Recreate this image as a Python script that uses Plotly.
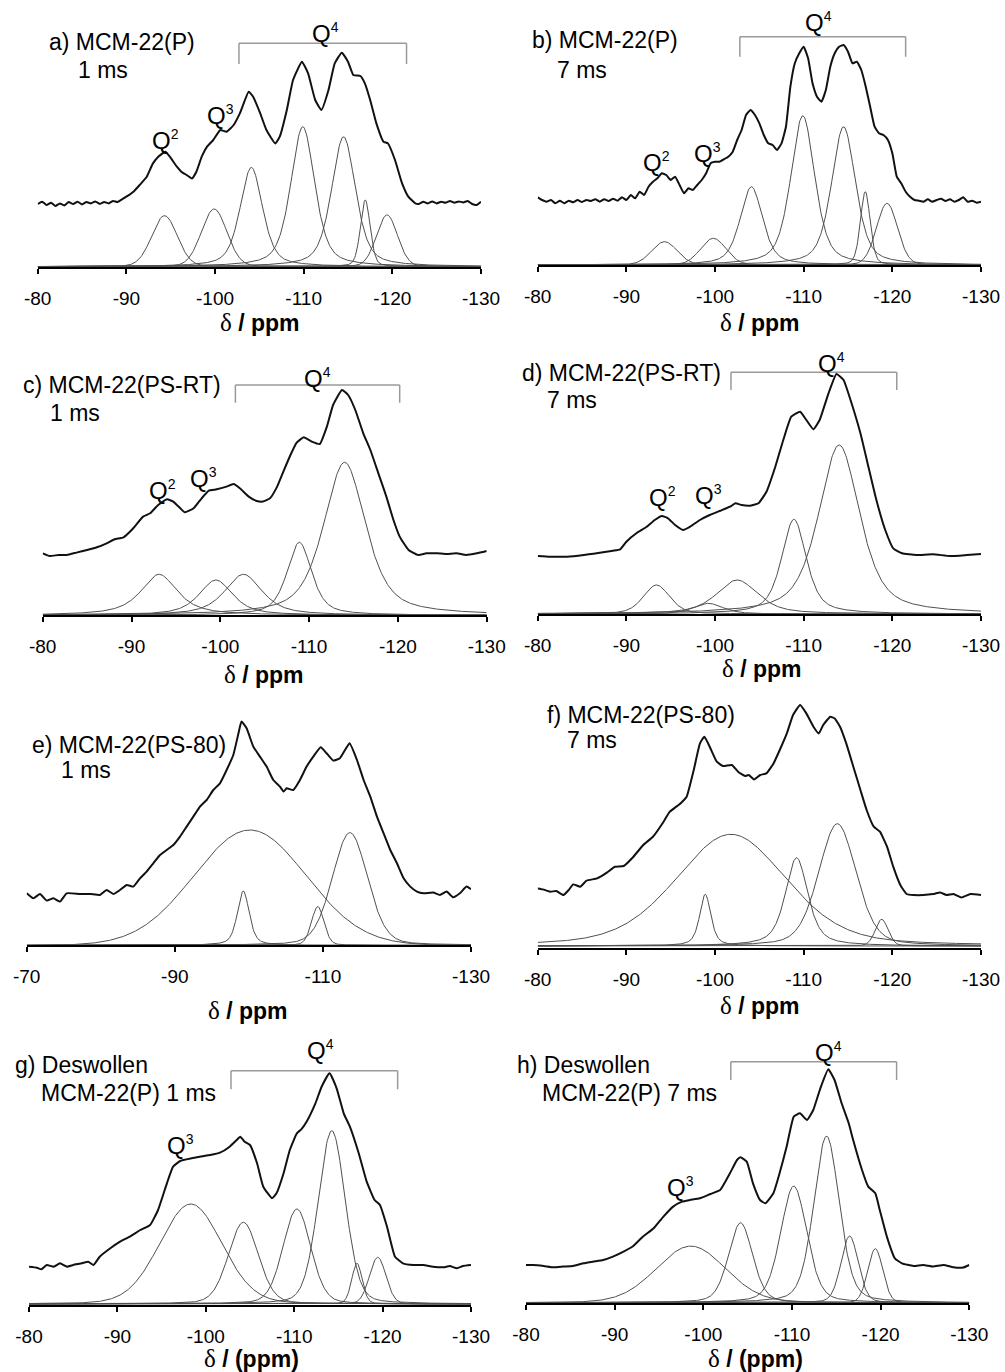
import numpy as np
import plotly.graph_objects as go

W, H = 1005, 1372

# ---------------- DATA (ppm, intensity in arbitrary units) ----------------
# Panel a) MCM-22(P) 1 ms
A_EXP_PPM = [-80.0,-80.5,-81.0,-81.5,-82.0,-82.5,-83.0,-83.5,-84.0,-84.5,-85.0,-85.5,-86.0,-86.5,-87.0,-87.5,-88.0,-88.5,-89.0,-89.5,-90.0,-90.8,-91.5,-92.3,-93.0,-93.6,-94.4,-94.9,-95.7,-96.2,-96.8,-97.4,-97.9,-98.5,-99.1,-99.8,-100.6,-101.3,-102.1,-102.8,-103.8,-104.3,-105.1,-105.8,-106.8,-107.3,-108.1,-108.8,-109.8,-110.5,-111.3,-112.0,-112.8,-113.5,-114.3,-115.0,-115.6,-116.4,-116.9,-117.5,-118.2,-119.0,-119.5,-120.3,-121.1,-121.8,-122.6,-123.0,-123.5,-124.0,-124.5,-125.0,-125.5,-126.0,-126.5,-127.0,-127.5,-128.0,-128.5,-129.0,-129.5,-130.0]
A_EXP_INT = [62.7,65,61.7,64,60.7,63.3,61.3,64.7,62.7,65,62.3,64.7,63.3,65.3,62.7,64.7,63.3,65.7,64.7,67.3,70,75,81.7,90,103.3,110,115,110,100,95,91.7,88.3,95,110,120,126.7,136.7,135,141.7,153.3,175,170,153.3,136.7,123.3,130,156.7,186.7,205,193.3,166.7,156.7,176.7,203.3,214,205,191.7,190.7,183.3,166.7,143.3,125,123.3,106.7,83.3,70,63.3,62.7,65,63.3,65.3,63.3,65,64,65.7,64,65.3,64.3,65.7,62.7,61.7,65]
A_PK_POS = [-94.3, -99.9, -104.1, -109.9, -114.5, -116.95, -119.4]
A_PK_HGT = [51, 57.7, 99.3, 140, 130, 66.7, 51.7]
A_PK_FWHM = [3.4, 3.4, 3.0, 3.2, 3.2, 1.3, 2.8]
A_PK_ETA = [0.1, 0.1, 0.5, 0.5, 0.5, 0.3, 0.1]

# Panel b) MCM-22(P) 7 ms
B_EXP_PPM = [-80.0,-80.5,-81.0,-81.5,-82.0,-82.5,-83.0,-83.5,-84.0,-84.5,-85.0,-85.5,-86.0,-86.5,-87.0,-87.5,-88.0,-88.5,-89.0,-89.5,-90.0,-90.5,-91.0,-91.5,-92.0,-92.5,-93.0,-93.5,-94.0,-94.5,-95.0,-95.5,-96.0,-96.5,-97.0,-97.5,-98.0,-98.5,-99.0,-99.5,-100.0,-100.5,-101.0,-101.5,-102.0,-102.5,-103.0,-103.5,-104.0,-104.5,-105.0,-105.5,-106.0,-106.5,-107.0,-107.5,-108.0,-108.5,-109.0,-109.5,-110.0,-110.5,-111.0,-111.5,-112.0,-112.5,-113.0,-113.5,-114.0,-114.5,-115.0,-115.5,-116.0,-116.5,-117.0,-117.5,-118.0,-118.5,-119.0,-119.5,-120.0,-120.5,-121.0,-121.5,-122.0,-122.5,-123.0,-123.5,-124.0,-124.5,-125.0,-125.5,-126.0,-126.5,-127.0,-127.5,-128.0,-128.5,-129.0,-129.5,-130.0]
B_EXP_INT = [67.7,65,63.3,65,61.7,64.3,61.7,64.3,62.7,65,63,65,64,65.7,63.3,65.7,64,66.3,64.3,67.7,65,70,66.7,73.3,70,78.3,83.3,86.7,91.7,90,85,88.3,80,71.7,76.7,75,80,85,91.7,101.7,103.3,103.3,105.7,108.3,113.3,125,135,150,155,150,141.7,130,121.7,120,115,121.7,138.3,178.3,201.7,211.7,218.3,206.7,181.7,168.3,163.3,175,198.3,211.7,218.3,220,213.3,201.7,203.3,195,178.3,158.3,138.3,131.7,130,125,111.7,88.3,81.7,73.3,68.3,65,64.3,63.3,65.7,63.3,65,66.3,64,65.7,63.3,65,67.7,63.3,64.3,62.3,63.3]
B_PK_POS = [-94.3, -99.8, -104.1, -109.9, -114.5, -116.95, -119.4]
B_PK_HGT = [23.3, 26.7, 78.3, 149.3, 138.3, 73.3, 61.7]
B_PK_FWHM = [3.4, 3.4, 3.0, 3.2, 3.2, 1.3, 2.8]
B_PK_ETA = [0.1, 0.1, 0.5, 0.5, 0.5, 0.3, 0.1]

# Panel c) MCM-22(PS-RT) 1 ms
C_EXP_PPM = [-80.0,-80.8,-81.8,-82.7,-83.8,-85.0,-86.1,-87.2,-88.1,-89.1,-90.2,-91.3,-92.1,-93.0,-94.0,-94.7,-95.5,-96.0,-97.0,-97.9,-98.7,-99.6,-100.7,-101.5,-102.2,-103.2,-104.1,-104.8,-105.6,-106.4,-107.1,-107.9,-108.6,-109.4,-110.3,-111.2,-112.0,-112.7,-113.7,-114.4,-115.2,-116.1,-116.9,-117.8,-118.7,-119.5,-120.2,-121.2,-122.3,-123.2,-124.4,-125.5,-126.6,-127.7,-128.9,-130.0]
C_EXP_INT = [62,59.3,60.3,60.3,62.7,65.3,68,72,76,78,87,98.7,102,110.3,116,113.7,107,103,107,117,124.7,126,128.7,131.3,127,118.7,114.3,113.7,117,128.7,143.7,160.3,172.7,178,173.7,171.3,188.7,210.3,225.3,220.3,205.3,182,165.3,142,118.7,95.3,78.7,65.3,60.3,62,62,61.3,62,60.3,62,64.3]
C_PK_POS = [-93.1, -99.5, -102.6, -108.9, -114.0]
C_PK_HGT = [41, 35.3, 41, 73, 153]
C_PK_FWHM = [4.9, 4.5, 5.0, 3.3, 5.6]
C_PK_ETA = [0.8, 0.7, 0.7, 0.6, 0.6]

# Panel d) MCM-22(PS-RT) 7 ms
D_EXP_PPM = [-80.0,-81.4,-83.3,-85.2,-87.0,-88.5,-89.3,-90.0,-91.2,-92.3,-93.2,-94.0,-94.7,-95.5,-96.4,-97.2,-98.3,-99.4,-100.6,-101.7,-102.3,-103.0,-103.9,-104.9,-105.8,-106.8,-107.7,-108.6,-109.6,-110.3,-111.1,-111.8,-112.8,-113.7,-114.5,-115.4,-116.4,-117.3,-118.2,-119.2,-120.1,-121.1,-122.7,-124.6,-126.5,-128.4,-130.0]
D_EXP_INT = [58,57.3,57.3,59,61.3,63.3,64.7,72.3,81.3,87.3,94,98,95.7,89,84,87.3,94,99,103.3,107.3,110.7,109,108.3,110.7,122.3,147.3,174,197.3,202.3,194,184.7,194,220.7,240,234,210.7,180.7,147.3,114,84,65.7,60.7,59,59.7,58,59,60]
D_PK_POS = [-93.4, -99.2, -102.5, -108.9, -114.0]
D_PK_HGT = [29, 10.7, 34, 94.7, 169]
D_PK_FWHM = [3.5, 4.0, 5.5, 3.3, 5.5]
D_PK_ETA = [0.4, 0.5, 0.6, 0.6, 0.6]

# Panel e) MCM-22(PS-80) 1 ms
E_EXP_PPM = [-70.0,-70.9,-71.8,-72.7,-73.6,-74.5,-75.4,-77.2,-78.6,-79.9,-80.8,-81.7,-82.6,-83.5,-84.4,-85.3,-86.2,-87.1,-88.0,-88.9,-89.8,-90.7,-91.6,-92.5,-93.4,-94.3,-95.2,-96.1,-97.0,-97.9,-98.6,-99.0,-99.7,-100.6,-101.5,-102.4,-103.3,-104.2,-104.7,-105.1,-106.0,-106.9,-107.8,-108.7,-109.7,-110.5,-111.4,-112.3,-113.6,-114.6,-115.5,-116.4,-117.3,-118.2,-119.1,-120.0,-120.9,-121.8,-122.7,-123.6,-124.9,-125.8,-126.7,-127.6,-128.5,-129.4,-130.0]
E_EXP_INT = [52,47,51.3,44.7,47,43.7,52,51.3,51.3,50.3,55.3,51.3,55.3,60.3,58.7,67,73.7,82,90.3,95.3,100.3,108.7,118.7,128.7,138.7,145.3,155.3,162,175.3,190.3,212,223.7,217,198.7,188.7,178.7,165.3,158.7,153.7,157,155.3,165.3,178.7,188.7,198,192,184.7,187,202,185.3,165.3,148.7,128.7,112,95.3,82,67,58.7,53.7,52,52.7,50.3,53.7,48,52,58.7,56]
E_PK_POS = [-100.15, -99.25, -109.3, -113.65]
E_PK_HGT = [115.3, 54.3, 38.7, 112.7]
E_PK_FWHM = [17.8, 1.9, 2.0, 5.6]
E_PK_ETA = [0.0, 0.5, 0.2, 0.2]

# Panel f) MCM-22(PS-80) 7 ms
F_EXP_PPM = [-80.0,-80.6,-81.4,-82.1,-82.9,-83.5,-84.0,-84.8,-85.5,-86.7,-87.8,-88.7,-89.7,-90.8,-91.9,-93.0,-94.2,-94.9,-96.1,-96.8,-97.6,-98.3,-98.8,-99.4,-100.2,-100.9,-101.9,-102.6,-103.4,-103.8,-104.4,-105.1,-105.8,-106.6,-107.3,-108.1,-108.8,-109.6,-110.3,-111.1,-111.7,-112.2,-113.0,-113.5,-114.1,-114.8,-115.6,-116.4,-117.1,-117.9,-118.6,-119.4,-120.1,-120.9,-121.6,-122.4,-123.5,-124.6,-125.4,-126.1,-126.9,-127.8,-128.8,-130.0]
F_EXP_INT = [59.3,58.3,56,56.7,52.7,57.7,63.3,61,67,69.3,75,81,81.7,91,102.7,111,126,136,144.3,151,177.7,204.3,211,201,186,181.7,182.7,176,171.7,172.7,168.3,172.7,174.3,184.3,197.7,214.3,232.7,242.7,234.3,221,214.3,222.7,231,229.3,221,204.3,181,157.7,137.7,121,116,101,81,62.7,53.7,52.7,52.7,53.7,55.3,52.7,53.7,50.3,53.7,52.7]
F_PK_POS = [-101.8, -98.9, -109.2, -113.8, -118.8]
F_PK_HGT = [111.7, 51.7, 88.3, 122.3, 26.7]
F_PK_FWHM = [14.7, 1.5, 3.0, 5.0, 1.7]
F_PK_ETA = [0.3, 0.6, 0.6, 0.3, 0.2]

# Panel g) Deswollen MCM-22(P) 1 ms
G_EXP_PPM = [-80.0,-80.9,-81.4,-82.0,-82.8,-83.5,-84.3,-85.0,-86.0,-86.7,-87.3,-88.0,-89.2,-90.3,-91.4,-92.6,-93.7,-94.6,-95.6,-96.3,-97.1,-98.4,-99.3,-100.5,-101.6,-102.7,-103.5,-103.9,-104.4,-105.0,-105.8,-106.5,-107.5,-108.0,-108.8,-109.5,-110.3,-110.8,-111.4,-112.4,-113.1,-114.0,-114.8,-115.6,-116.3,-117.3,-118.2,-119.1,-119.7,-120.5,-121.4,-122.3,-123.5,-124.6,-125.7,-126.9,-127.6,-128.4,-129.1,-130.0]
G_EXP_INT = [38.3,37.3,35.7,40,38.3,41.7,38.3,40,41.7,43.3,40,48.3,56.7,63.3,68.3,75,80,95,121.7,138.3,144,146.7,148.3,150,152.3,158.3,165,168.3,163.3,160,141.7,118.3,106.7,111.7,131.7,155,171.7,175.7,183.3,201.7,218.3,231.7,216.7,191.7,178.3,151.7,123.3,105,100,78.3,48.3,41.7,40,40,38.3,37.7,39,36.7,39,40]
G_PK_POS = [-98.3, -104.25, -110.3, -114.25, -117.1, -119.45]
G_PK_HGT = [100, 81.7, 95, 173.3, 40.7, 46.7]
G_PK_FWHM = [8.3, 4.0, 3.7, 3.6, 1.4, 2.2]
G_PK_ETA = [0.1, 0.2, 0.2, 0.2, 0.2, 0.1]

# Panel h) Deswollen MCM-22(P) 7 ms
H_EXP_PPM = [-80.0,-80.8,-82.0,-83.1,-84.2,-85.3,-86.5,-87.6,-88.7,-89.8,-91.0,-92.1,-93.2,-94.4,-95.5,-96.6,-97.6,-98.5,-99.6,-100.8,-101.9,-103.0,-103.8,-104.2,-104.9,-105.6,-106.4,-107.0,-107.9,-108.6,-109.4,-110.2,-110.9,-111.7,-112.4,-113.2,-114.1,-114.8,-115.6,-116.4,-116.9,-117.9,-118.6,-119.4,-119.9,-120.7,-121.6,-122.4,-123.7,-124.8,-125.9,-127.1,-128.2,-129.3,-130.0]
H_EXP_INT = [38.3,38.3,37.3,36,36.7,37.3,40,41.7,43.3,46.7,51.7,57.3,66.7,75,86.7,96.7,101.7,103.3,105,109.3,113.3,130,143.3,146,141.7,120,103.3,100,110,130,156.7,186.7,190,183.3,193.3,215,234,223.3,200,180,163.3,133.3,116.7,110,93.3,66.7,45,40,37.3,38.3,36.7,38.3,36,35.7,38.3]
H_PK_POS = [-98.6, -104.2, -110.2, -113.9, -116.5, -119.4]
H_PK_HGT = [56.7, 80, 116.7, 166.7, 66.7, 54]
H_PK_FWHM = [9.2, 3.2, 3.5, 3.4, 2.3, 2.0]
H_PK_ETA = [0.1, 0.3, 0.3, 0.3, 0.2, 0.1]

# baseline of the fitted components above the axis (f and g show a doubled axis line)
COMP_BASE = {'a': 0, 'b': 0, 'c': 0, 'd': 0, 'e': 0, 'f': 1.7, 'g': 1.0, 'h': 0.5}

# Q4 bracket ranges (ppm) and tick labels
Q4_RANGE = {'a': (-102.7, -121.6), 'b': (-102.8, -121.5), 'c': (-101.7, -120.2),
            'd': (-101.8, -120.5), 'g': (-102.85, -121.7), 'h': (-103.1, -121.8)}
TICKS_STD = [-80, -90, -100, -110, -120, -130]
TICKS_E = [-70, -90, -110, -130]

# ---------------- LAYOUT GEOMETRY (pixels) ----------------
R = 250  # intensity range shown above axis
panels = [
    dict(k='a', ex=A_EXP_PPM, ey=A_EXP_INT, pos=A_PK_POS, hgt=A_PK_HGT, fw=A_PK_FWHM, eta=A_PK_ETA,
         x0=37.7, x1=481, ay=266.7, xr=(-80, -130), tv=TICKS_STD, title_xy=(260, 322), unit='ppm',
         lab=[("a) MCM-22(P)", 47, 42), ("1 ms", 76, 70)],
         q=[("Q", "2", 165, 140), ("Q", "3", 220, 115), ("Q", "4", 325, 33)],
         br=(223.4, 202.7)),
    dict(k='b', ex=B_EXP_PPM, ey=B_EXP_INT, pos=B_PK_POS, hgt=B_PK_HGT, fw=B_PK_FWHM, eta=B_PK_ETA,
         x0=537.7, x1=981, ay=265, xr=(-80, -130), tv=TICKS_STD, title_xy=(760, 322), unit='ppm',
         lab=[("b) MCM-22(P)", 530, 40), ("7 ms", 555, 70)],
         q=[("Q", "2", 656, 162), ("Q", "3", 707, 153), ("Q", "4", 818, 22)],
         br=(228.3, 208.3)),
    dict(k='c', ex=C_EXP_PPM, ey=C_EXP_INT, pos=C_PK_POS, hgt=C_PK_HGT, fw=C_PK_FWHM, eta=C_PK_ETA,
         x0=42.7, x1=486.7, ay=615.3, xr=(-80, -130), tv=TICKS_STD, title_xy=(264, 675), unit='ppm',
         lab=[("c) MCM-22(PS-RT)", 21, 385), ("1 ms", 48, 413)],
         q=[("Q", "2", 162, 490), ("Q", "3", 203, 478), ("Q", "4", 317, 378)],
         br=(230.3, 212.6)),
    dict(k='d', ex=D_EXP_PPM, ey=D_EXP_INT, pos=D_PK_POS, hgt=D_PK_HGT, fw=D_PK_FWHM, eta=D_PK_ETA,
         x0=537.7, x1=981, ay=614, xr=(-80, -130), tv=TICKS_STD, title_xy=(762, 668), unit='ppm',
         lab=[("d) MCM-22(PS-RT)", 520, 373), ("7 ms", 545, 400)],
         q=[("Q", "2", 662, 497), ("Q", "3", 708, 495), ("Q", "4", 831, 363)],
         br=(241.7, 224)),
    dict(k='e', ex=E_EXP_PPM, ey=E_EXP_INT, pos=E_PK_POS, hgt=E_PK_HGT, fw=E_PK_FWHM, eta=E_PK_ETA,
         x0=26.7, x1=471, ay=945.3, xr=(-70, -130), tv=TICKS_E, title_xy=(248, 1010), unit='ppm',
         lab=[("e) MCM-22(PS-80)", 30, 745), ("1 ms", 59, 770)], q=[], br=None),
    dict(k='f', ex=F_EXP_PPM, ey=F_EXP_INT, pos=F_PK_POS, hgt=F_PK_HGT, fw=F_PK_FWHM, eta=F_PK_ETA,
         x0=537.7, x1=981, ay=947.7, xr=(-80, -130), tv=TICKS_STD, title_xy=(760, 1005), unit='ppm',
         lab=[("f) MCM-22(PS-80)", 545, 715), ("7 ms", 565, 740)], q=[], br=None),
    dict(k='g', ex=G_EXP_PPM, ey=G_EXP_INT, pos=G_PK_POS, hgt=G_PK_HGT, fw=G_PK_FWHM, eta=G_PK_ETA,
         x0=29, x1=471, ay=1305, xr=(-80, -130), tv=TICKS_STD, title_xy=(252, 1358), unit='(ppm)',
         lab=[("g) Deswollen", 13, 1065), ("MCM-22(P) 1 ms", 39, 1093)],
         q=[("Q", "3", 180, 1145), ("Q", "4", 320, 1050)],
         br=(234.3, 215.7)),
    dict(k='h', ex=H_EXP_PPM, ey=H_EXP_INT, pos=H_PK_POS, hgt=H_PK_HGT, fw=H_PK_FWHM, eta=H_PK_ETA,
         x0=526, x1=969.3, ay=1303.3, xr=(-80, -130), tv=TICKS_STD, title_xy=(755, 1358), unit='(ppm)',
         lab=[("h) Deswollen", 515, 1065), ("MCM-22(P) 7 ms", 540, 1093)],
         q=[("Q", "3", 680, 1187), ("Q", "4", 828, 1052)],
         br=(241.6, 223.3)),
]


def pvoigt(x, c, h, w, eta):
    g = np.exp(-4 * np.log(2) * ((x - c) / w) ** 2)
    lo = 1.0 / (1.0 + 4 * ((x - c) / w) ** 2)
    return h * (eta * lo + (1 - eta) * g)


def px(xp):
    return xp / W


def py(yp):
    return 1 - yp / H


FONT = "Arial, Liberation Sans, sans-serif"
fig = go.Figure()
layout = dict(width=W, height=H, margin=dict(l=0, r=0, t=0, b=0, pad=0, autoexpand=False),
              plot_bgcolor="white", paper_bgcolor="white", showlegend=False)
annotations = []
shapes = []

for i, p in enumerate(panels):
    n = i + 1
    sfx = "" if n == 1 else str(n)
    xref, yref = "x" + sfx, "y" + sfx
    grid = np.linspace(p['xr'][0], p['xr'][1], 601)
    base = COMP_BASE[p['k']]
    for c, h, w, e in zip(p['pos'], p['hgt'], p['fw'], p['eta']):
        fig.add_trace(go.Scatter(x=grid, y=base + pvoigt(grid, c, h, w, e), mode="lines",
                                 line=dict(color="#505050", width=1), xaxis=xref, yaxis=yref,
                                 hoverinfo="skip", cliponaxis=False))
    fig.add_trace(go.Scatter(x=p['ex'], y=p['ey'], mode="lines",
                             line=dict(color="#111111", width=2, shape="spline", smoothing=0.4),
                             xaxis=xref, yaxis=yref, cliponaxis=False))
    layout["xaxis" + sfx] = dict(
        domain=[px(p['x0']), px(p['x1'])], range=list(p['xr']), anchor=yref, automargin=False,
        showgrid=False, zeroline=False, showline=True, linecolor="black", linewidth=2,
        ticks="outside", ticklen=5, tickwidth=1.5, tickcolor="black",
        tickvals=p['tv'], ticktext=[str(v) for v in p['tv']],
        tickfont=dict(family=FONT, size=19, color="black"), ticklabelstandoff=8)
    layout["yaxis" + sfx] = dict(
        domain=[py(p['ay']), py(p['ay'] - R)], range=[0, R], anchor=xref, automargin=False,
        showgrid=False, zeroline=False, showline=False, showticklabels=False, ticks="")
    # axis title
    tx, ty = p['title_xy']
    annotations.append(dict(
        x=px(tx), y=py(ty), xref="paper", yref="paper", showarrow=False,
        xanchor="center", yanchor="middle",
        text="<span style='font-family:Liberation Serif;font-size:25px'>δ</span><b> / " + p['unit'] + "</b>",
        font=dict(family=FONT, size=23, color="black")))
    for t, lx, ly in p['lab']:
        annotations.append(dict(x=px(lx), y=py(ly), xref="paper", yref="paper", showarrow=False,
                                xanchor="left", yanchor="middle", text=t,
                                font=dict(family=FONT, size=23, color="black")))
    for qb, sup, qx, qy in p['q']:
        annotations.append(dict(x=px(qx), y=py(qy), xref="paper", yref="paper", showarrow=False,
                                xanchor="center", yanchor="middle",
                                text=qb + "<sup><span style='font-size:14px'>" + sup + "</span></sup>",
                                font=dict(family=FONT, size=24, color="black")))
    if p['br'] is not None:
        xa, xb = Q4_RANGE[p['k']]
        top, bot = p['br']
        for (xs, ys, xe, ye) in [(xa, top, xb, top), (xa, top, xa, bot), (xb, top, xb, bot)]:
            shapes.append(dict(type="line", xref=xref, yref=yref, x0=xs, y0=ys, x1=xe, y1=ye,
                               line=dict(color="#9a9a9a", width=1.5)))

layout["annotations"] = annotations
layout["shapes"] = shapes
fig.update_layout(**layout)
fig.write_html("out.html")
